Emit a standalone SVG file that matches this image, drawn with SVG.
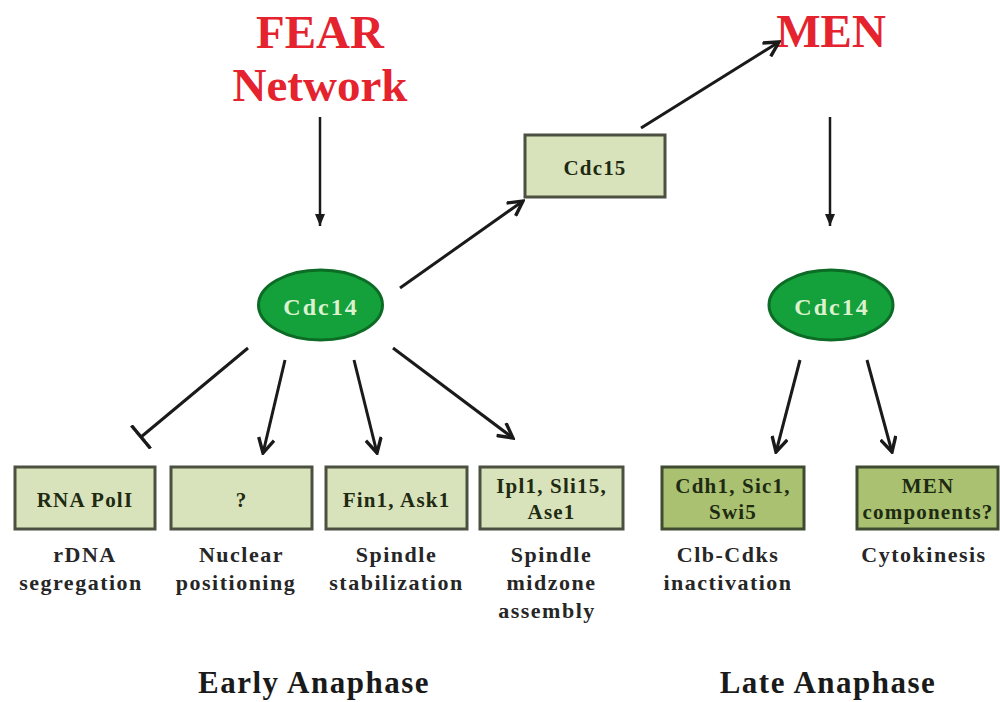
<svg xmlns="http://www.w3.org/2000/svg" width="1000" height="702" viewBox="0 0 1000 702">
<style>
.title{font-family:"Liberation Serif",serif;font-weight:bold;font-size:47px;fill:#e5232e;text-anchor:middle}
.box{fill:#d9e3bb;stroke:#4b5040;stroke-width:3}
.dbox{fill:#a9c171;stroke:#3f4a30;stroke-width:3}
.bt{font-family:"Liberation Serif",serif;font-weight:bold;font-size:21px;fill:#1e2a12;text-anchor:middle;letter-spacing:1.2px}
.lbl{font-family:"Liberation Serif",serif;font-weight:bold;font-size:22px;fill:#262626;text-anchor:middle;letter-spacing:1.5px}
.phase{font-family:"Liberation Serif",serif;font-weight:bold;font-size:31px;fill:#1a1a1a;text-anchor:middle;letter-spacing:1.5px}
.ell{fill:#14a03a;stroke:#0c6b25;stroke-width:3}
.et{font-family:"Liberation Serif",serif;font-weight:bold;font-size:24px;fill:#dcf2cf;text-anchor:middle;letter-spacing:2px}
.ln{stroke:#1a1a1a;stroke-width:3;fill:none}
.vl{stroke:#1a1a1a;stroke-width:2.5;fill:none}
</style>
<defs>
<marker id="arr" viewBox="0 0 16 16" refX="14" refY="8" markerWidth="18" markerHeight="18" markerUnits="userSpaceOnUse" orient="auto">
<path d="M1,1 L14,8 L1,15" fill="none" stroke="#1a1a1a" stroke-width="3"/>
</marker>
<marker id="tri" viewBox="0 0 12 10" refX="12" refY="5" markerWidth="13" markerHeight="10" markerUnits="userSpaceOnUse" orient="auto">
<path d="M0,0 L12,5 L0,10 Z" fill="#1a1a1a"/>
</marker>
<marker id="bar" viewBox="0 0 4 30" refX="2" refY="15" markerWidth="4" markerHeight="30" markerUnits="userSpaceOnUse" orient="auto">
<path d="M2,0 L2,30" stroke="#1a1a1a" stroke-width="3.5"/>
</marker>
</defs>
<rect width="1000" height="702" fill="#ffffff"/>

<g id="fear">
<text class="title" x="320" y="48">FEAR</text>
<text class="title" x="320" y="101">Network</text>
</g>
<g id="men">
<text class="title" x="831" y="47">MEN</text>
</g>

<g id="connectors">
<line class="vl" x1="320" y1="117" x2="320" y2="226" marker-end="url(#tri)"/>
<line class="vl" x1="830" y1="117" x2="830" y2="226" marker-end="url(#tri)"/>
<line class="ln" x1="400" y1="288" x2="523" y2="201" marker-end="url(#arr)"/>
<line class="ln" x1="641" y1="128" x2="779" y2="42" marker-end="url(#arr)"/>
<line class="ln" x1="248" y1="348" x2="141" y2="437" marker-end="url(#bar)"/>
<line class="ln" x1="285" y1="360" x2="263" y2="453" marker-end="url(#arr)"/>
<line class="ln" x1="354" y1="360" x2="377" y2="453" marker-end="url(#arr)"/>
<line class="ln" x1="393" y1="348" x2="513" y2="438" marker-end="url(#arr)"/>
<line class="ln" x1="800" y1="360" x2="776" y2="452" marker-end="url(#arr)"/>
<line class="ln" x1="867" y1="360" x2="892" y2="452" marker-end="url(#arr)"/>
</g>

<g id="cdc15">
<rect class="box" x="525" y="135" width="140" height="62"/>
<text class="bt" x="595" y="175">Cdc15</text>
</g>
<g id="cdc14-left">
<ellipse class="ell" cx="320.5" cy="305" rx="62" ry="35"/>
<text class="et" x="321" y="315">Cdc14</text>
</g>
<g id="cdc14-right">
<ellipse class="ell" cx="831" cy="305" rx="62" ry="35"/>
<text class="et" x="832" y="315">Cdc14</text>
</g>

<g id="rnapol">
<rect class="box" x="15" y="467" width="140" height="62"/>
<text class="bt" x="85" y="507">RNA PolI</text>
<text class="lbl" x="85" y="562">rDNA</text>
<text class="lbl" x="81" y="590">segregation</text>
</g>
<g id="unknown">
<rect class="box" x="171" y="467" width="141" height="62"/>
<text class="bt" x="241.5" y="507">?</text>
<text class="lbl" x="241.5" y="562">Nuclear</text>
<text class="lbl" x="236" y="590">positioning</text>
</g>
<g id="fin1">
<rect class="box" x="326" y="467" width="141" height="62"/>
<text class="bt" x="396.5" y="507">Fin1, Ask1</text>
<text class="lbl" x="396.5" y="562">Spindle</text>
<text class="lbl" x="396.5" y="590">stabilization</text>
</g>
<g id="ipl1">
<rect class="box" x="480" y="467" width="143" height="62"/>
<text class="bt" x="551.5" y="493">Ipl1, Sli15,</text>
<text class="bt" x="551.5" y="519">Ase1</text>
<text class="lbl" x="551.5" y="562">Spindle</text>
<text class="lbl" x="551.5" y="590">midzone</text>
<text class="lbl" x="547" y="618">assembly</text>
</g>
<g id="cdh1">
<rect class="dbox" x="662" y="467" width="142" height="62"/>
<text class="bt" x="733" y="493">Cdh1, Sic1,</text>
<text class="bt" x="733" y="519">Swi5</text>
<text class="lbl" x="728" y="562">Clb-Cdks</text>
<text class="lbl" x="728" y="590">inactivation</text>
</g>
<g id="mencomp">
<rect class="dbox" x="857" y="467" width="141" height="62"/>
<text class="bt" x="928" y="493">MEN</text>
<text class="bt" x="928" y="519">components?</text>
<text class="lbl" x="924" y="562">Cytokinesis</text>
</g>

<g id="phases">
<text class="phase" x="314" y="693">Early Anaphase</text>
<text class="phase" x="828" y="693">Late Anaphase</text>
</g>
</svg>
